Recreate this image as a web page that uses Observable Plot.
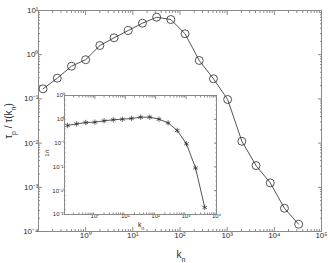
<!DOCTYPE html>
<html><head><meta charset="utf-8">
<script src="https://cdn.jsdelivr.net/npm/d3@7"></script>
<script src="https://cdn.jsdelivr.net/npm/@observablehq/plot@0.6"></script>
<style>
body{margin:0;background:#fff}
#c{position:relative;width:330px;height:263px;background:#fff}
#c svg{position:absolute;left:0;top:0}
</style>
</head><body><div id="c"></div>
<script>
// main chart: k_n shells and tau_p / tau(k_n)
const mainK = [0.125,0.25,0.5,1,2,4,8,16,32,64,128,256,512,1024,2048,4096,8192,16384,32768];
const mainTau = [0.169,0.294,0.55,0.77,1.61,2.41,3.53,5.16,7.05,6.25,2.97,0.74,0.285,0.097,0.011,0.0031,0.00126,0.000336,0.000146];
// inset: 1/tau vs k_n
const insetK = [0.125,0.25,0.5,1,2,4,8,16,32,64,128,256,512,1024,2048,4096];
const insetInv = [0.05,0.11,0.21,0.25,0.48,0.8,1.05,1.5,2.75,2.75,1.05,0.18,4.5e-3,7e-6,6e-11,3e-19];
// tick labels
const mainXTicks = [1,10,100,1e3,1e4,1e5];
const mainYTicks = [1e-4,1e-3,1e-2,1e-1,1,10];
const insetXTicks = [1,10,100,1e3,1e4];
const insetYTicks = [1e5,1,1e-5,1e-10,1e-15,1e-20];

const supMap = {"-":"⁻","0":"⁰","1":"¹","2":"²","3":"³","4":"⁴","5":"⁵","6":"⁶","7":"⁷","8":"⁸","9":"⁹"};
const fmt = v => "10" + String(Math.round(Math.log10(v))).split("").map(c => supMap[c]).join("");
const blank = () => "";
function minor(lo, hi, steps) {
  const out = [];
  for (let e = lo; e < hi; e++) for (const m of steps) out.push(m * Math.pow(10, e));
  return out;
}
const mainXMinor = minor(-1, 5, [2,3,4,5,6,7,8,9]);
const mainYMinor = minor(-4, 1, [2,3,4,5,6,7,8,9]);
const insetXMinor = minor(-1, 4, [2,3,4,5,6,7,8,9]);
const insetYMinor = minor(-20, 5, [1]);

const FONT = "Liberation Sans, Arial, sans-serif";
const FR = "#8a8a8a";
const INK = "#2a2a2a";

const MAIN = {marginLeft: 38, marginRight: 9, marginTop: 10, marginBottom: 32, xd: [0.1, 1e5], yd: [1e-4, 10]};
const INS = {marginLeft: 64, marginRight: 114, marginTop: 95, marginBottom: 49, xd: [1e-1, 1e4], yd: [1e-20, 1e5]};

function layer(g, {xTicks, yTicks, xAxis, yAxis, tickSize, format, fontSize, xPad, yPad, marks, bg}) {
  return Plot.plot({
    width: 330, height: 263,
    marginLeft: g.marginLeft, marginRight: g.marginRight, marginTop: g.marginTop, marginBottom: g.marginBottom,
    style: {fontFamily: FONT, color: FR, background: bg || "transparent", fontSize: fontSize + "px", overflow: "visible"},
    x: {type: "log", domain: g.xd, ticks: xTicks, tickFormat: format, tickSize, tickPadding: xPad, axis: xAxis, label: null},
    y: {type: "log", domain: g.yd, ticks: yTicks, tickFormat: format, tickSize, tickPadding: yPad, axis: yAxis, label: null},
    marks: marks || []
  });
}

const c = document.getElementById("c");
const layers = [
  layer(MAIN, {xTicks: mainXTicks, yTicks: mainYTicks, xAxis: "bottom", yAxis: "left", tickSize: -4, format: fmt, fontSize: 8, xPad: 5, yPad: 4, bg: "white",
    marks: [
      Plot.frame({stroke: FR}),
      Plot.line(mainK, {x: d => d, y: (d, i) => mainTau[i], stroke: INK, strokeWidth: 0.8}),
      Plot.dot(mainK, {x: d => d, y: (d, i) => mainTau[i], r: 4, stroke: INK, strokeWidth: 0.8, fill: "none"})
    ]}),
  layer(MAIN, {xTicks: mainXTicks, yTicks: mainYTicks, xAxis: "top", yAxis: "right", tickSize: -4, format: blank, fontSize: 8, xPad: 0, yPad: 0}),
  layer(MAIN, {xTicks: mainXMinor, yTicks: mainYMinor, xAxis: "both", yAxis: "both", tickSize: -2, format: blank, fontSize: 8, xPad: 0, yPad: 0}),
  layer(INS, {xTicks: insetXTicks, yTicks: insetYTicks, xAxis: "bottom", yAxis: "left", tickSize: -3, format: fmt, fontSize: 6, xPad: 2, yPad: 2,
    marks: [
      Plot.frame({fill: "white", stroke: FR}),
      Plot.line(insetK, {x: d => d, y: (d, i) => insetInv[i], stroke: INK, strokeWidth: 0.8}),
      Plot.dot(insetK, {x: d => d, y: (d, i) => insetInv[i], symbol: "asterisk", r: 2.5, stroke: INK, strokeWidth: 0.7})
    ]}),
  layer(INS, {xTicks: insetXTicks, yTicks: insetYTicks, xAxis: "top", yAxis: "right", tickSize: -3, format: blank, fontSize: 6, xPad: 0, yPad: 0}),
  layer(INS, {xTicks: insetXMinor, yTicks: insetYMinor, xAxis: "both", yAxis: "both", tickSize: -1.5, format: blank, fontSize: 6, xPad: 0, yPad: 0})
];
for (const l of layers) c.appendChild(l);
// tick label colour
d3.selectAll("#c svg text").attr("fill", INK);

// axis titles with sub-scripts
function title(svg, x, y, rot, size, parts) {
  const t = d3.select(svg).append("text")
    .attr("transform", `translate(${x},${y}) rotate(${rot})`)
    .attr("text-anchor", "middle").attr("font-size", size)
    .attr("font-family", FONT).attr("fill", INK);
  for (const [s, sub] of parts) {
    const ts = t.append("tspan").text(s);
    if (sub) ts.attr("baseline-shift", "sub").attr("font-size", size * 0.7);
  }
}
title(layers[0], 181, 258, 0, 10, [["k", false], ["n", true]]);
title(layers[0], 12, 121, -90, 10, [["τ", false], ["p", true], [" / τ(k", false], ["n", true], [")", false]]);
title(layers[3], 141, 227, 0, 7, [["k", false], ["n", true]]);
title(layers[3], 49, 153, -90, 6, [["1/τ", false]]);
</script>
</body></html>
